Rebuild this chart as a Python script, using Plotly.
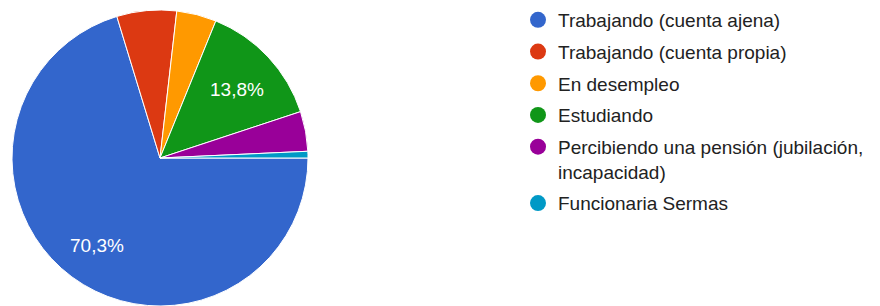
import math
import plotly.graph_objects as go

categories = [
    "Trabajando (cuenta ajena)",
    "Trabajando (cuenta propia)",
    "En desempleo",
    "Estudiando",
    "Percibiendo una pensión (jubilación,<br>incapacidad)",
    "Funcionaria Sermas",
]
counts = [97, 9, 6, 19, 6, 1]
show_label = [True, False, False, True, False, False]
colors = ["#3366CC", "#DC3912", "#FF9900", "#109618", "#990099", "#0099C6"]

W, H = 880, 306
OFF = 8  # page body margin of the browser
FONT = "Liberation Sans, Arial, Helvetica, sans-serif"

# pie geometry (figure pixels)
PX0, PX1 = 12 - OFF, 308 - OFF
PY0, PY1 = 10 - OFF, 306 - OFF
CX, CY = (PX0 + PX1) / 2, (PY0 + PY1) / 2
R = (PX1 - PX0) / 2
ROT = 90

fig = go.Figure()
fig.add_trace(go.Pie(
    labels=categories,
    values=counts,
    sort=False,
    direction="clockwise",
    rotation=ROT,
    marker=dict(colors=colors, line=dict(color="white", width=1)),
    textinfo="none",
    showlegend=False,
    domain=dict(x=[PX0 / W, PX1 / W], y=[1 - PY1 / H, 1 - PY0 / H]),
    hoverinfo="label+percent",
))

# percentage labels along each slice bisector, derived from the data
total = sum(counts)
annotations = []
acc = 0
for v, s in zip(counts, show_label):
    mid = ROT + 360 * (acc + v / 2) / total
    acc += v
    if not s:
        continue
    th = math.radians(mid)
    fx = CX + 0.71 * R * math.sin(th)
    fy = CY - 0.71 * R * math.cos(th)
    pct = f"{100 * v / total:.1f}".replace(".", ",") + "%"
    annotations.append(dict(
        x=fx / W, y=1 - fy / H, xref="paper", yref="paper",
        text=pct, showarrow=False, xanchor="center", yanchor="middle",
        yshift=-3,
        font=dict(color="white", size=19, family=FONT),
    ))

for i, (cat, col) in enumerate(zip(categories, colors)):
    fig.add_trace(go.Scatter(
        x=[None], y=[None], mode="markers", name=cat,
        marker=dict(color=col, size=17, symbol="circle"),
        legendgroup=f"g{i}", showlegend=True,
        hoverinfo="skip",
    ))

fig.update_layout(
    width=W, height=H,
    margin=dict(l=0, r=0, t=0, b=0, autoexpand=False),
    paper_bgcolor="white", plot_bgcolor="white",
    separators=",.",
    annotations=annotations,
    xaxis=dict(visible=False, domain=[0.99, 1]),
    yaxis=dict(visible=False, domain=[0.99, 1]),
    legend=dict(
        x=510 / W, y=1 + 7 / H, xanchor="left", yanchor="top",
        font=dict(size=19, family=FONT, color="#222222"),
        valign="top",
        tracegroupgap=4,
        maxheight=300,
        bgcolor="rgba(0,0,0,0)",
        itemsizing="trace",
    ),
)

fig.write_html("out.html")
